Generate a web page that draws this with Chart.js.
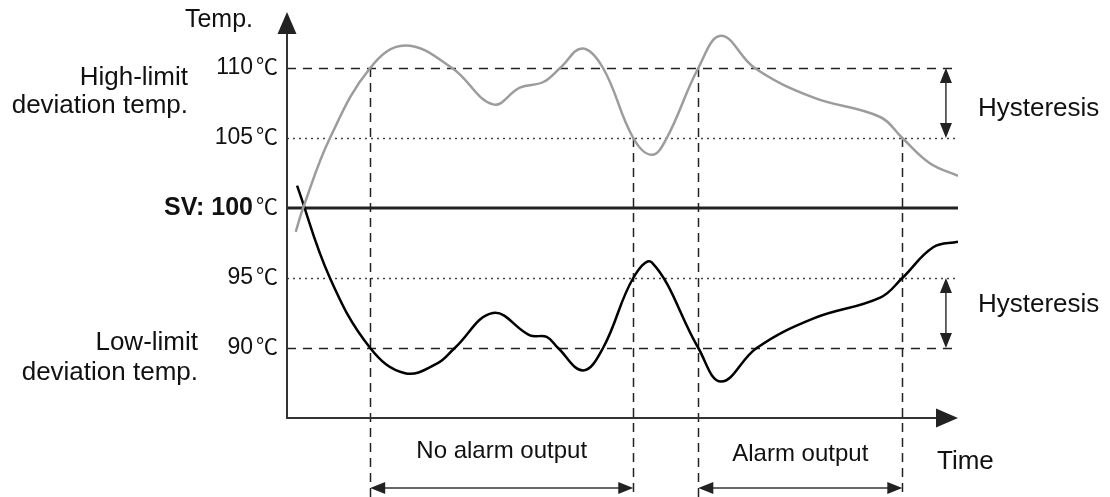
<!DOCTYPE html>
<html>
<head>
<meta charset="utf-8">
<script src="https://cdn.jsdelivr.net/npm/chart.js@4"></script>
<style>
  html, body { margin: 0; padding: 0; background: #fff; }
  #wrap { width: 1110px; height: 497px; }
</style>
</head>
<body>
<div id="wrap"><canvas id="alarm"></canvas></div>
<script>
// deviation alarm with hysteresis
const timeHigh = [1.3, 2.4, 6.4, 12.4, 17.6, 24.6, 30.7, 34.7, 38.2, 40.7, 44.0, 47.1, 51.6, 54.4, 56.6, 61.3, 64.7, 69.7, 78.4, 88.4, 91.7, 95.8, 100];
const tempHigh = [98.3, 100, 105, 110, 111.6, 110, 107.4, 108.6, 109.0, 110, 111.4, 110, 105, 103.8, 105, 110, 112.3, 110, 107.9, 106.5, 105, 103.2, 102.3];

const timeLow = [1.5, 6.4, 12.4, 17.6, 22.4, 25.0, 30.7, 36.2, 38.7, 40.4, 44.1, 47.1, 51.6, 54.4, 61.3, 64.7, 70.0, 78.4, 88.4, 91.7, 96.3, 100];
const tempLow = [101.6, 95, 90, 88.2, 88.9, 90, 92.5, 90.9, 90.8, 90, 88.4, 90, 95, 96.1, 90, 87.6, 90, 92.1, 93.6, 95, 97.2, 97.6];

const setValue = 100;
const dashedLevels = [110, 90];
const dottedLevels = [105, 95];
const tickValues = [110, 105, 100, 95, 90];
const tickLabels = ['110', '105', '100', '95', '90'];

// where the alarm switches (time, temp at which the dashed marker starts)
const markerTimes = [12.4, 51.6, 61.3, 91.7];
const markerTemps = [110, 105, 110, 105];

const FONT = '"Liberation Sans", Arial, "Noto Sans CJK KR", sans-serif';

function arrowHead(ctx, x, y, dx, dy, len, half) {
    // tip at x,y pointing along dx,dy
    ctx.beginPath();
    ctx.moveTo(x, y);
    ctx.lineTo(x - dx * len - dy * half, y - dy * len + dx * half);
    ctx.lineTo(x - dx * len + dy * half, y - dy * len - dx * half);
    ctx.closePath();
    ctx.fill();
}

function doubleArrow(ctx, x1, y1, x2, y2) {
    const l = Math.hypot(x2 - x1, y2 - y1);
    const dx = (x2 - x1) / l, dy = (y2 - y1) / l;
    ctx.beginPath();
    ctx.moveTo(x1 + dx * 10, y1 + dy * 10);
    ctx.lineTo(x2 - dx * 10, y2 - dy * 10);
    ctx.stroke();
    arrowHead(ctx, x2, y2, dx, dy, 15, 6);
    arrowHead(ctx, x1, y1, -dx, -dy, 15, 6);
}

const backdrop = {
    id: 'backdrop',
    beforeDatasetsDraw(chart) {
        const ctx = chart.ctx, a = chart.chartArea;
        const xs = chart.scales.x, ys = chart.scales.y;
        ctx.save();
        // limit lines
        ctx.strokeStyle = '#222';
        ctx.lineWidth = 1.5;
        ctx.setLineDash([9, 7]);
        dashedLevels.forEach(v => {
            const y = Math.round(ys.getPixelForValue(v)) + 0.5;
            ctx.beginPath(); ctx.moveTo(a.left, y); ctx.lineTo(a.right, y); ctx.stroke();
        });
        ctx.strokeStyle = '#444';
        ctx.setLineDash([2, 4]);
        dottedLevels.forEach(v => {
            const y = Math.round(ys.getPixelForValue(v)) + 0.5;
            ctx.beginPath(); ctx.moveTo(a.left, y); ctx.lineTo(a.right, y); ctx.stroke();
        });
        // switching markers
        ctx.strokeStyle = '#222';
        ctx.setLineDash([9, 6]);
        markerTimes.forEach((t, i) => {
            const x = Math.round(xs.getPixelForValue(t)) + 0.5;
            ctx.beginPath();
            ctx.moveTo(x, ys.getPixelForValue(markerTemps[i]));
            ctx.lineTo(x, chart.height);
            ctx.stroke();
        });
        ctx.setLineDash([]);
        // set value line
        ctx.strokeStyle = '#222';
        ctx.lineWidth = 3;
        const sy = ys.getPixelForValue(setValue);
        ctx.beginPath(); ctx.moveTo(a.left, sy); ctx.lineTo(a.right, sy); ctx.stroke();
        ctx.restore();
    },
    afterDatasetsDraw(chart) {
        const ctx = chart.ctx, a = chart.chartArea;
        const xs = chart.scales.x, ys = chart.scales.y;
        ctx.save();
        // axes with arrow heads
        ctx.strokeStyle = '#333';
        ctx.fillStyle = '#222';
        ctx.lineWidth = 2;
        ctx.beginPath();
        ctx.moveTo(a.left, a.top + 20);
        ctx.lineTo(a.left, a.bottom);
        ctx.lineTo(a.right - 20, a.bottom);
        ctx.stroke();
        arrowHead(ctx, a.left, a.top, 0, -1, 22, 9.5);
        arrowHead(ctx, a.right, a.bottom, 1, 0, 22, 9.5);

        // hysteresis arrows
        ctx.lineWidth = 1.5;
        const hx = xs.getPixelForValue(98.2);
        doubleArrow(ctx, hx, ys.getPixelForValue(110), hx, ys.getPixelForValue(105));
        doubleArrow(ctx, hx, ys.getPixelForValue(95), hx, ys.getPixelForValue(90));

        // output spans under the axis
        const by = ys.getPixelForValue(80);
        doubleArrow(ctx, xs.getPixelForValue(markerTimes[0]), by, xs.getPixelForValue(markerTimes[1]), by);
        doubleArrow(ctx, xs.getPixelForValue(markerTimes[2]), by, xs.getPixelForValue(markerTimes[3]), by);

        // tick labels
        ctx.fillStyle = '#111';
        ctx.textBaseline = 'middle';
        const unitW = 25;
        tickValues.forEach((v, i) => {
            const y = ys.getPixelForValue(v);
            const right = a.left - 9;
            ctx.textAlign = 'right';
            ctx.font = '22px ' + FONT;
            ctx.fillText('℃', right, y);
            if (v === setValue) {
                ctx.font = 'bold 25px ' + FONT;
                ctx.fillText('SV: ' + tickLabels[i], right - unitW, y);
            } else {
                ctx.font = '23px ' + FONT;
                ctx.fillText(tickLabels[i], right - unitW, y);
            }
        });

        ctx.textAlign = 'right';
        ctx.font = '25px ' + FONT;
        ctx.fillText('Temp.', a.left - 34, a.top + 8);
        ctx.font = '26px ' + FONT;
        ctx.fillText('High-limit', a.left - 99, ys.getPixelForValue(109.3));
        ctx.fillText('deviation temp.', a.left - 99, ys.getPixelForValue(107.3));
        ctx.fillText('Low-limit', a.left - 89, ys.getPixelForValue(90.35));
        ctx.fillText('deviation temp.', a.left - 89, ys.getPixelForValue(88.2));

        ctx.textAlign = 'left';
        ctx.fillText('Hysteresis', a.right + 20, ys.getPixelForValue(107.1));
        ctx.fillText('Hysteresis', a.right + 20, ys.getPixelForValue(93.1));
        ctx.fillText('Time', a.right - 21, ys.getPixelForValue(81.9));

        ctx.font = '24px ' + FONT;
        ctx.textAlign = 'center';
        ctx.fillText('No alarm output', (xs.getPixelForValue(markerTimes[0]) + xs.getPixelForValue(markerTimes[1])) / 2, ys.getPixelForValue(82.6));
        ctx.fillText('Alarm output', (xs.getPixelForValue(markerTimes[2]) + xs.getPixelForValue(markerTimes[3])) / 2, ys.getPixelForValue(82.4));
        ctx.restore();
    }
};

const ctx = document.getElementById('alarm').getContext('2d');
const chart = new Chart(ctx, {
    type: 'line',
    data: {
        datasets: [
            {
                label: 'High side',
                data: timeHigh.map((t, i) => ({ x: t, y: tempHigh[i] })),
                borderColor: '#9c9c9c',
                borderWidth: 2.5,
                tension: 0.4,
                pointRadius: 0,
                fill: false
            },
            {
                label: 'Low side',
                data: timeLow.map((t, i) => ({ x: t, y: tempLow[i] })),
                borderColor: '#000',
                borderWidth: 2.5,
                tension: 0.4,
                pointRadius: 0,
                fill: false
            }
        ]
    },
    options: {
        responsive: true,
        maintainAspectRatio: false,
        animation: false,
        layout: { padding: { left: 287, right: 152, top: 12, bottom: 79 } },
        plugins: { legend: { display: false }, tooltip: { enabled: false } },
        scales: {
            x: { type: 'linear', min: 0, max: 100, display: false },
            y: { type: 'linear', min: 85, max: 114, display: false }
        }
    },
    plugins: [backdrop]
});
</script>
</body>
</html>
